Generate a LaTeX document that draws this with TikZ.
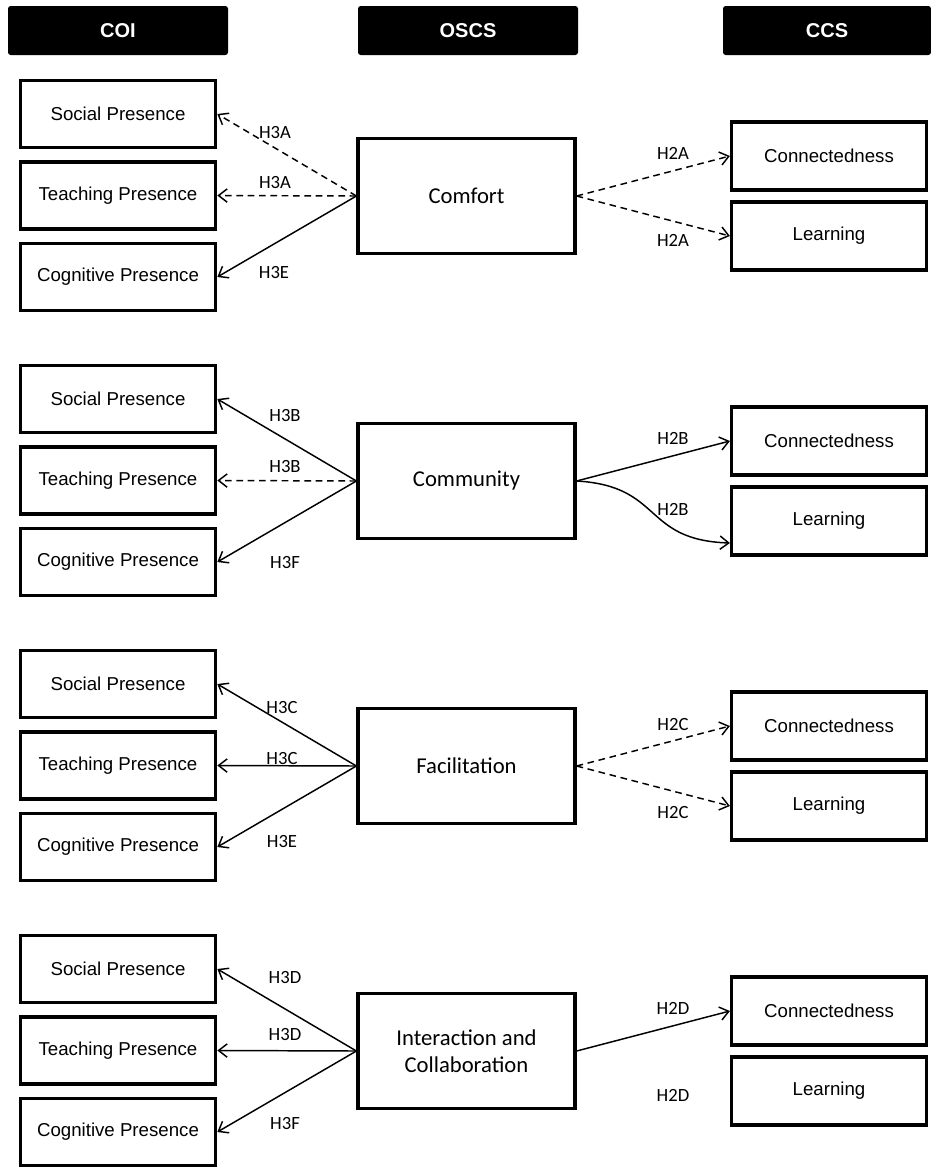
\documentclass[tikz,border=0pt]{standalone}
\usepackage{fontspec}
\setmainfont{Liberation Sans}
\newfontfamily\calfont{Carlito}
\usetikzlibrary{positioning,arrows.meta}

\begin{document}
\begin{tikzpicture}[x=0.75pt, y=-0.75pt,
  myheader/.style={fill=black, text=white, rounded corners=2pt, minimum width=165pt, minimum height=36.75pt, inner sep=0pt, font=\fontsize{15}{18}\selectfont\bfseries},
  coibox/.style={draw, line width=2.4pt, minimum width=146.6pt, minimum height=50.25pt, inner sep=0pt, font=\fontsize{14}{17}\selectfont},
  ccsbox/.style={coibox, minimum width=146.25pt, minimum height=51pt},
  oscsbox/.style={draw, line width=2.4pt, minimum width=162.75pt, minimum height=86.25pt, inner sep=0pt, align=center, font=\calfont\fontsize{17}{20.25}\selectfont},
  hyp/.style={inner sep=0pt, font=\calfont\fontsize{14}{17}\selectfont},
  myarrow/.style={line width=1.1pt, -{Straight Barb[length=6.5pt, width=10pt]}},
  mydash/.style={myarrow, dash pattern=on 5pt off 3.5pt}
  ]
  \useasboundingbox (0,0) rectangle (931,1167);

  \node[myheader] (coi) at (118,30.5) {COI};
  \node[myheader] (oscs) at (468,30.5) {OSCS};
  \node[myheader, minimum width=156pt] (ccs) at (827,30.5) {CCS};

  \foreach \i/\oslabel in {0/Comfort, 1/Community, 2/Facilitation, 3/{Interaction and\\Collaboration}} {
    \node[coibox] (soc\i) at (118,114+285*\i) {Social Presence};
    \node[coibox] (tea\i) at (118,195.5+285*\i) {Teaching Presence};
    \node[coibox] (cog\i) at (118,277+285*\i) {Cognitive Presence};
    \node[oscsbox] (os\i) at (466.5,196+285*\i) {\oslabel};
    \node[ccsbox] (con\i) at (829,156+285*\i) {Connectedness};
    \node[ccsbox] (lea\i) at (829,236+285*\i) {Learning};
  }

  % comfort
  \draw[mydash] (os0.west) -- (soc0.east);
  \draw[mydash] (os0.west) -- (tea0.east);
  \draw[myarrow] (os0.west) -- (cog0.east);
  \draw[mydash] (os0.east) -- (con0.west);
  \draw[mydash] (os0.east) -- (lea0.west);
  \node[hyp] (h0a) at (275,133) {H3A};
  \node[hyp] (h0b) at (275,183) {H3A};
  \node[hyp] (h0c) at (274,273) {H3E};
  \node[hyp] (h0d) at (673,153) {H2A};
  \node[hyp] (h0e) at (673,240) {H2A};

  % community
  \draw[myarrow] (os1.west) -- (soc1.east);
  \draw[mydash] (os1.west) -- (tea1.east);
  \draw[myarrow] (os1.west) -- (cog1.east);
  \draw[myarrow] (os1.east) -- (con1.west);
  \draw[myarrow] (os1.east) .. controls +(87,5) and +(-88,-3) .. ([yshift=-16.5pt]lea1.west);
  \node[hyp] (h1a) at (285,416) {H3B};
  \node[hyp] (h1b) at (285,467) {H3B};
  \node[hyp] (h1c) at (285,562) {H3F};
  \node[hyp] (h1d) at (673,438) {H2B};
  \node[hyp] (h1e) at (673,509) {H2B};

  % facilitation
  \draw[myarrow] (os2.west) -- (soc2.east);
  \draw[myarrow] (os2.west) -- (tea2.east);
  \draw[myarrow] (os2.west) -- (cog2.east);
  \draw[mydash] (os2.east) -- (con2.west);
  \draw[mydash] (os2.east) -- (lea2.west);
  \node[hyp] (h2a) at (282,707) {H3C};
  \node[hyp] (h2b) at (282,758) {H3C};
  \node[hyp] (h2c) at (282,841) {H3E};
  \node[hyp] (h2d) at (673,724) {H2C};
  \node[hyp] (h2e) at (673,812) {H2C};

  % interaction and collaboration
  \draw[myarrow] (os3.west) -- (soc3.east);
  \draw[myarrow] (os3.west) -- (tea3.east);
  \draw[myarrow] (os3.west) -- (cog3.east);
  \draw[myarrow] (os3.east) -- (con3.west);
  \node[hyp] (h3a) at (285,977) {H3D};
  \node[hyp] (h3b) at (285,1034) {H3D};
  \node[hyp] (h3c) at (285,1123) {H3F};
  \node[hyp] (h3d) at (673,1008) {H2D};
  \node[hyp] (h3e) at (673,1095) {H2D};

\end{tikzpicture}
\end{document}
